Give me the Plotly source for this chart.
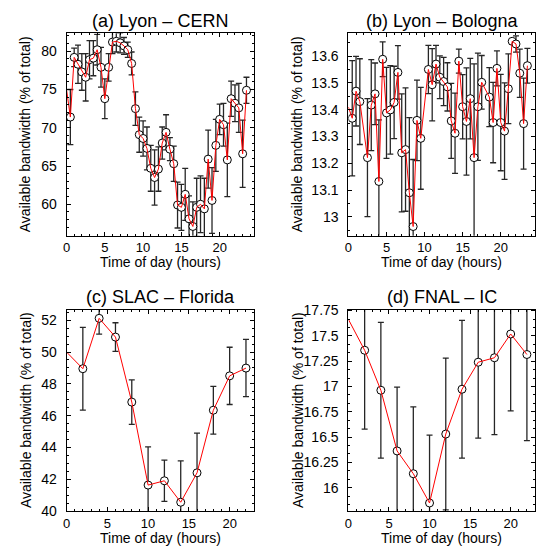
import plotly.graph_objects as go

W, H = 537, 554

# ---------------- data ----------------
# (a) Lyon - CERN
hours_a = [0.5, 1.0, 1.5, 2.0, 2.5, 3.0, 3.5, 4.0, 4.5, 5.0, 5.5, 6.0, 6.5, 7.0, 7.5, 8.0,
           8.5, 9.0, 9.5, 10.0, 10.5, 11.0, 11.5, 12.0, 12.5, 13.0, 13.5, 14.0, 14.5, 15.0,
           15.5, 16.0, 16.5, 17.0, 17.5, 18.0, 18.5, 19.0, 19.5, 20.0, 20.5, 21.0, 21.5,
           22.0, 22.5, 23.0, 23.5]
bw_a = [71.4, 79.2, 78.3, 77.3, 76.6, 78.9, 79.1, 80.2, 77.9, 73.8, 77.9, 81.2, 81.3, 81.1,
        80.7, 80.2, 78.4, 72.5, 69.1, 68.6, 67.3, 64.7, 63.5, 64.6, 68.0, 69.4, 67.2, 65.3,
        59.9, 59.6, 61.3, 58.1, 57.1, 59.6, 60.0, 59.4, 65.9, 60.5, 67.7, 71.1, 70.4, 65.8,
        73.8, 73.2, 72.6, 66.6, 74.9]
err_a = [3.6, 1.2, 2.5, 2.4, 3.1, 2.5, 2.3, 2.0, 2.6, 2.6, 1.8, 1.5, 1.4, 1.3, 1.1, 1.0,
         1.5, 2.2, 2.3, 2.3, 2.8, 3.0, 3.6, 2.9, 2.1, 2.3, 1.5, 2.3, 3.0, 3.0, 3.4, 3.0,
         3.2, 3.8, 3.7, 4.0, 3.8, 4.3, 3.4, 2.0, 2.8, 4.8, 2.3, 2.4, 3.2, 4.4, 1.7]
start_a = 75.0

# (b) Lyon - Bologna
hours_b = [0.5, 1.0, 1.5, 2.5, 3.0, 3.5, 4.0, 4.5, 5.0, 5.5, 6.0, 6.5, 7.0, 7.5, 8.0, 8.5,
           9.0, 9.5, 10.5, 11.0, 11.5, 12.0, 12.5, 13.0, 13.5, 14.0, 14.5, 15.0, 15.5, 16.0,
           16.5, 17.0, 17.5, 18.5, 19.0, 19.5, 20.0, 20.5, 21.0, 21.5, 22.0, 22.5, 23.0, 23.5]
bw_b = [13.368, 13.469, 13.430, 13.221, 13.417, 13.459, 13.132, 13.588, 13.388, 13.399,
        13.427, 13.539, 13.239, 13.251, 13.090, 12.964, 13.360, 13.293, 13.550, 13.493,
        13.570, 13.521, 13.505, 13.485, 13.358, 13.312, 13.581, 13.411, 13.356, 13.441,
        13.221, 13.411, 13.502, 13.447, 13.352, 13.554, 13.352, 13.320, 13.478, 13.655,
        13.645, 13.536, 13.348, 13.564]
err_b = [0.215, 0.13, 0.16, 0.22, 0.17, 0.115, 0.23, 0.065, 0.17, 0.165, 0.135, 0.10,
         0.22, 0.23, 0.28, 0.25, 0.15, 0.19, 0.09, 0.135, 0.07, 0.08, 0.09, 0.09, 0.14,
         0.15, 0.045, 0.12, 0.20, 0.15, 0.35, 0.20, 0.10, 0.11, 0.15, 0.065, 0.18, 0.18,
         0.13, 0.01, 0.03, 0.09, 0.17, 0.065]
start_b = 13.41

# (c) SLAC - Florida
hours_c = [2, 4, 6, 8, 10, 12, 14, 16, 18, 20, 22]
bw_c = [48.95, 52.12, 50.94, 46.85, 41.63, 41.9, 40.55, 42.4, 46.34, 48.5, 48.99]
err_c = [2.6, 1.0, 0.9, 1.4, 2.4, 1.3, 2.6, 2.5, 1.5, 1.8, 1.8]
start_c = 50.0

# (d) FNAL - IC
hours_d = [2, 4, 6, 8, 10, 12, 14, 16, 18, 20, 22]
bw_d = [17.358, 16.963, 16.363, 16.138, 15.849, 16.53, 16.973, 17.24, 17.284, 17.519, 17.316]
err_d = [0.78, 0.67, 0.63, 0.66, 0.67, 0.75, 0.68, 0.75, 0.76, 0.76, 0.85]
start_d = 17.663

titles = ["(a) Lyon – CERN", "(b) Lyon – Bologna", "(c) SLAC – Florida", "(d) FNAL – IC"]
x_title = "Time of day (hours)"
y_title = "Available bandwidth (% of total)"

# ---------------- layout geometry (pixels) ----------------
FONT = "Liberation Sans, Arial, sans-serif"
panels = [
    dict(h=hours_a, v=bw_a, e=err_a, s=start_a, x0=63, x1=252, y0=27, y1=235,
         xr=[0, 24.5], yr=[55.9, 82.35], dt=5, mdt=1, ytx=22, xtoff=27),
    dict(h=hours_b, v=bw_b, e=err_b, s=start_b, x0=347, x1=535, y0=27, y1=235,
         xr=[0, 24.5], yr=[12.93, 13.685], dt=0.1, mdt=0.05, ytx=296, xtoff=27),
    dict(h=hours_c, v=bw_c, e=err_c, s=start_c, x0=63, x1=252, y0=311, y1=518,
         xr=[0, 23], yr=[40.0, 52.67], dt=2, mdt=0.5, ytx=22, xtoff=28),
    dict(h=hours_d, v=bw_d, e=err_d, s=start_d, x0=347, x1=535, y0=311, y1=518,
         xr=[0, 23], yr=[15.77, 17.76], dt=0.25, mdt=0.25 / 3, ytx=296, xtoff=28),
]

fig = go.Figure()
annotations = []
for i, p in enumerate(panels):
    n = "" if i == 0 else str(i + 1)
    xa, ya = "x" + n, "y" + n
    # markers with error bars
    fig.add_trace(go.Scatter(
        x=p["h"], y=p["v"], mode="markers", xaxis=xa, yaxis=ya, showlegend=False,
        marker=dict(symbol="circle", size=8, color="white", line=dict(color="black", width=1)),
        error_y=dict(type="data", array=p["e"], color="#262626", thickness=1.3, width=3),
        hoverinfo="skip",
    ))
    # red connecting line on top
    fig.add_trace(go.Scatter(
        x=[0] + p["h"], y=[p["s"]] + p["v"], mode="lines", xaxis=xa, yaxis=ya,
        showlegend=False, line=dict(color="#ff0000", width=1), hoverinfo="skip",
    ))
    axcommon = dict(showline=True, linecolor="black", linewidth=1, mirror="allticks",
                    ticks="inside", ticklen=4, tickcolor="black", tickwidth=1,
                    showgrid=False, zeroline=False, fixedrange=True)
    fig.layout["xaxis" + n] = dict(
        axcommon, domain=[p["x0"] / W, p["x1"] / W], range=p["xr"], anchor=ya,
        tick0=0, dtick=5, ticklabelstandoff=0,
        tickfont=dict(family=FONT, size=13, color="black"),
        minor=dict(dtick=1, ticklen=2, ticks="inside", tickcolor="black", showgrid=False))
    fig.layout["yaxis" + n] = dict(
        axcommon, domain=[1 - p["y1"] / H, 1 - p["y0"] / H], range=p["yr"], anchor=xa,
        tick0=0, dtick=p["dt"], ticklabelstandoff=6,
        tickfont=dict(family=FONT, size=14, color="black"),
        minor=dict(dtick=p["mdt"], ticklen=2, ticks="inside", tickcolor="black", showgrid=False))
    cx = (p["x0"] + p["x1"]) / 2
    annotations.append(dict(text=titles[i], x=cx / W, y=1 - (p["y0"] - 13) / H,
                            xref="paper", yref="paper", showarrow=False,
                            xanchor="center", yanchor="middle",
                            font=dict(family=FONT, size=18, color="black")))
    annotations.append(dict(text=x_title, x=cx / W, y=1 - (p["y1"] + p["xtoff"]) / H,
                            xref="paper", yref="paper", showarrow=False,
                            xanchor="center", yanchor="middle",
                            font=dict(family=FONT, size=14, color="black")))
    annotations.append(dict(text=y_title, x=p["ytx"] / W, y=1 - ((p["y0"] + p["y1"]) / 2) / H,
                            xref="paper", yref="paper", showarrow=False, textangle=-90,
                            xanchor="center", yanchor="middle",
                            font=dict(family=FONT, size=14, color="black")))

fig.update_layout(
    width=W, height=H, margin=dict(l=0, r=0, t=0, b=0),
    paper_bgcolor="white", plot_bgcolor="white",
    annotations=annotations, showlegend=False, hovermode=False,
)

fig.write_html("out.html", config={"displayModeBar": False},
               post_script="document.body.style.margin='0px';document.body.style.overflow='hidden';")
